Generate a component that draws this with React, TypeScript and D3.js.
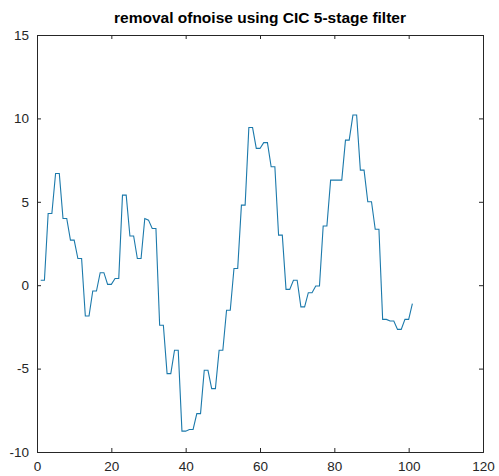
import * as d3 from "d3";
import { useEffect, useRef } from "react";

// filtered signal, one value per sample (samples 1..101)
const samples = d3.range(1, 102);
const filtered = [
  0.3, 0.3, 4.3, 4.3, 6.7, 6.7, 4.0, 4.0, 2.7, 2.7,
  1.6, 1.6, -1.85, -1.85, -0.35, -0.35, 0.75, 0.75, 0.05, 0.05,
  0.4, 0.4, 5.4, 5.4, 2.95, 2.95, 1.6, 1.6, 4.0, 3.9,
  3.4, 3.4, -2.4, -2.4, -5.3, -5.3, -3.9, -3.9, -8.75, -8.75,
  -8.65, -8.65, -7.7, -7.7, -5.1, -5.1, -6.2, -6.2, -3.9, -3.9,
  -1.5, -1.5, 1.0, 1.0, 4.8, 4.8, 9.45, 9.45, 8.2, 8.2,
  8.55, 8.55, 7.1, 7.1, 3.0, 3.0, -0.25, -0.25, 0.3, 0.3,
  -1.3, -1.3, -0.45, -0.45, -0.05, -0.05, 3.55, 3.55, 6.3, 6.3,
  6.3, 6.3, 8.7, 8.7, 10.2, 10.2, 6.9, 6.9, 5.0, 5.0,
  3.35, 3.35, -2.05, -2.05, -2.15, -2.15, -2.65, -2.65, -2.05, -2.05,
  -1.1,
];
const xTicks = [0, 20, 40, 60, 80, 100, 120];
const yTicks = [-10, -5, 0, 5, 10, 15];
const title = "removal ofnoise using CIC 5-stage filter";

const App = () => {
  const chartRef = useRef<SVGSVGElement>(null);

  useEffect(() => {
    const svg = d3.select(chartRef.current);
    svg.selectAll("*").remove();

    const width = 499;
    const height = 476;
    const margin = { top: 35, right: 16, bottom: 24, left: 37 };
    const innerWidth = width - margin.left - margin.right;
    const innerHeight = height - margin.top - margin.bottom;
    const axisColor = "#262626";

    svg.attr("width", width).attr("height", height);
    svg.append("rect").attr("width", width).attr("height", height).attr("fill", "#fff");

    const g = svg.append("g").attr("transform", `translate(${margin.left},${margin.top})`);

    const x = d3.scaleLinear().domain([0, 120]).range([0, innerWidth]);
    const y = d3.scaleLinear().domain([-10, 15]).range([innerHeight, 0]);

    // bottom / top x axes, ticks pointing inward
    const bottom = g.append("g")
      .attr("transform", `translate(0,${innerHeight})`)
      .call(d3.axisBottom(x).tickValues(xTicks).tickSize(-4).tickPadding(9).tickFormat((d) => String(d)));
    const top = g.append("g")
      .call(d3.axisTop(x).tickValues(xTicks).tickSize(-4).tickFormat(() => ""));
    const left = g.append("g")
      .call(d3.axisLeft(y).tickValues(yTicks).tickSize(-4).tickPadding(8).tickFormat((d) => String(d)));
    const right = g.append("g")
      .attr("transform", `translate(${innerWidth},0)`)
      .call(d3.axisRight(y).tickValues(yTicks).tickSize(-4).tickFormat(() => ""));

    [bottom, top, left, right].forEach((ax) => {
      ax.select(".domain").attr("stroke", axisColor).attr("stroke-width", 1);
      ax.selectAll(".tick line").attr("stroke", axisColor);
      ax.selectAll("text")
        .attr("fill", axisColor)
        .style("font-family", "Liberation Sans, Arial, sans-serif")
        .style("font-size", "13.5px");
    });

    // signal
    const line = d3.line<number>()
      .x((_, i) => x(samples[i]))
      .y((d) => y(d));

    g.append("path")
      .datum(filtered)
      .attr("d", line)
      .attr("fill", "none")
      .attr("stroke", "#1b79ab")
      .attr("stroke-width", 1.1);

    // title
    svg.append("text")
      .attr("x", margin.left + innerWidth / 2)
      .attr("y", 23)
      .attr("text-anchor", "middle")
      .attr("fill", "#000")
      .style("font-family", "Liberation Sans, Arial, sans-serif")
      .style("font-size", "15.5px")
      .style("font-weight", "bold")
      .text(title);
  }, []);

  return (
    <svg
      ref={chartRef}
      width="499"
      height="476"
      style={{ position: "absolute", left: 0, top: 0 }}
    ></svg>
  );
};

export default App;
